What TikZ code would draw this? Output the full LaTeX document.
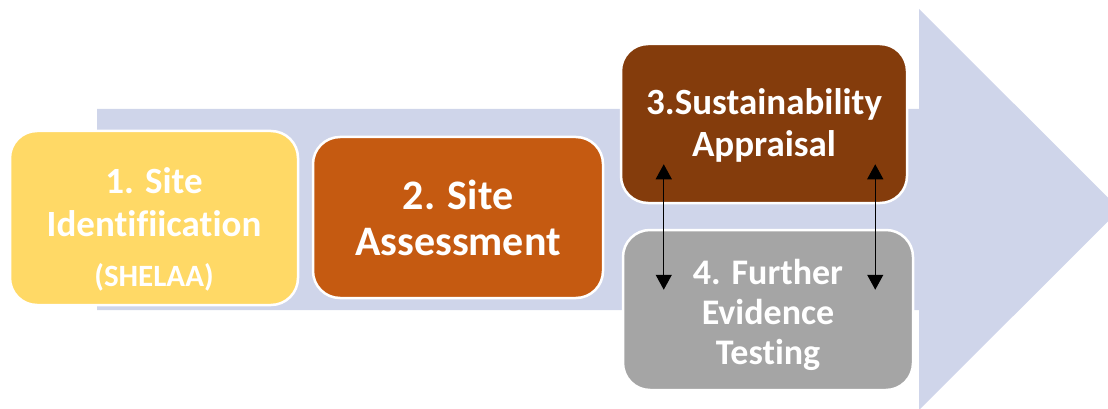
\documentclass[tikz,border=0pt]{standalone}
\usepackage{fontspec}
\setmainfont[Ligatures=NoCommon]{Carlito}
\usetikzlibrary{arrows.meta}
\definecolor{band}{RGB}{207,213,234}
\definecolor{stepone}{RGB}{255,217,102}
\definecolor{steptwo}{RGB}{197,90,17}
\definecolor{stepthree}{RGB}{132,60,12}
\definecolor{stepfour}{RGB}{165,165,165}

\begin{document}
\begin{tikzpicture}[%
  x=1pt, y=-1pt,
  stage/.style={draw=white, line width=2.5pt, rounded corners=27pt,
    text=white, align=center, inner sep=0pt},
  link/.style={{Triangle[width=16pt,length=15pt]}-{Triangle[width=16pt,length=15pt]},
    line width=1.2pt},
]

  \useasboundingbox (0,0) rectangle (1108,409);
  \clip (0,0) rectangle (1108,409);

  % Process arrow
  \fill[band] (97,109) -- (919,109) -- (919,9) -- (1120,209.5)
    -- (919,410) -- (919,310) -- (97,310) -- cycle;

  \node[stage, fill=stepone, minimum width=288pt, minimum height=174pt,
    font=\bfseries\fontsize{37}{43}\selectfont] (ident) at (154,218)
    {\rule{0pt}{48pt}1. Site\\Identifiication\\[7pt]%
     {\fontsize{31}{37}\selectfont(SHELAA)}};
  \node[stage, fill=steptwo, minimum width=290pt, minimum height=161pt,
    font=\bfseries\fontsize{42}{46}\selectfont] (assess) at (458,217.5)
    {2. Site\\Assessment};
  \node[stage, fill=stepthree, minimum width=286pt, minimum height=159pt,
    font=\bfseries\fontsize{37}{42}\selectfont] (appraisal) at (764,123.5)
    {\rule{0pt}{30pt}3.Sustainability\\Appraisal};
  \node[stage, fill=stepfour, minimum width=290pt, minimum height=160pt,
    font=\bfseries\fontsize{36}{40}\selectfont] (evidence) at (768,310)
    {\rule{0pt}{36pt}4. Further\\Evidence\\Testing};

  \draw[link] ([xshift=44pt,yshift=40pt]appraisal.south west) -- ([xshift=42pt,yshift=-61pt]evidence.north west);
  \draw[link] ([xshift=-33pt,yshift=40pt]appraisal.south east) -- ([xshift=-39pt,yshift=-61pt]evidence.north east);

\end{tikzpicture}
\end{document}
